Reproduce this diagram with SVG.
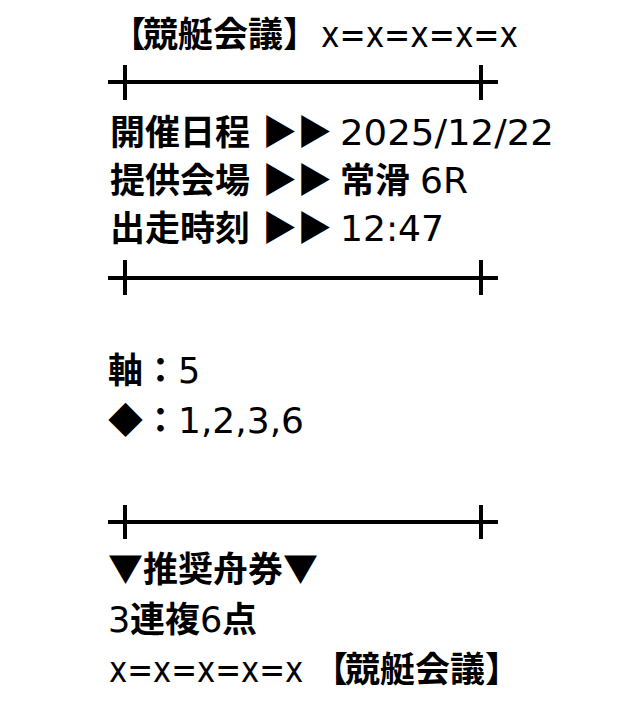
<svg xmlns="http://www.w3.org/2000/svg" width="640" height="708" viewBox="0 0 640 708">
<style>
text{font-family:"Noto Sans CJK JP","Noto Sans",sans-serif;font-size:35px;font-weight:700;fill:#000}
.l{font-family:"DejaVu Sans","Liberation Sans",sans-serif;font-weight:400}
.rule{stroke:#000;stroke-width:4;fill:none}
</style>
<rect width="640" height="708" fill="#fff"/>
<text y="47"><tspan x="111">【</tspan><tspan x="143">競艇会議】</tspan><tspan class="l" x="321" textLength="197" lengthAdjust="spacingAndGlyphs">x=x=x=x=x</tspan></text>
<g class="rule"><path d="M108 82H498M125 65V100M481 65V100"/></g>
<text y="145"><tspan x="110">開催日程</tspan><tspan x="262">▶▶</tspan><tspan class="l" x="340" textLength="214" lengthAdjust="spacingAndGlyphs">2025/12/22</tspan></text>
<text y="193"><tspan x="110">提供会場</tspan><tspan x="262">▶▶</tspan><tspan x="340">常滑</tspan><tspan class="l" x="420" textLength="48" lengthAdjust="spacingAndGlyphs">6R</tspan></text>
<text y="241"><tspan x="110">出走時刻</tspan><tspan x="262">▶▶</tspan><tspan class="l" x="340" textLength="104" lengthAdjust="spacingAndGlyphs">12:47</tspan></text>
<g class="rule"><path d="M108 278H498M125 260V295M481 260V295"/></g>
<text y="383"><tspan x="108">軸：</tspan><tspan class="l" x="178">5</tspan></text>
<text y="433"><tspan x="108">◆：</tspan><tspan class="l" x="178" textLength="126" lengthAdjust="spacingAndGlyphs">1,2,3,6</tspan></text>
<g class="rule"><path d="M108 522H498M125 505V539M481 505V539"/></g>
<text y="582" x="108">▼推奨舟券▼</text>
<text y="632"><tspan class="l" x="108">3</tspan><tspan x="130">連複</tspan><tspan class="l" x="200">6</tspan><tspan x="222">点</tspan></text>
<text class="l" transform="translate(109 682) scale(0.88 1)">x=x=x=x=x</text>
<text y="682"><tspan x="313">【</tspan><tspan x="345">競艇会議】</tspan></text>
</svg>
